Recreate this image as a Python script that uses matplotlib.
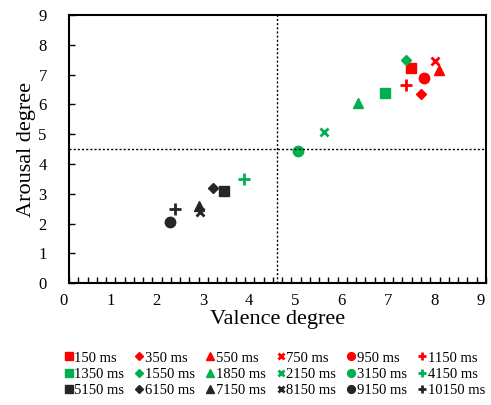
import numpy as np
import matplotlib
matplotlib.use('Agg')
import matplotlib.pyplot as plt
import matplotlib.transforms as mtransforms
from matplotlib.ticker import MultipleLocator

plt.rcParams['font.family'] = ['Liberation Serif', 'DejaVu Serif']

# delays and (valence, arousal)
labels = ['150 ms', '350 ms', '550 ms', '750 ms', '950 ms', '1150 ms',
          '1350 ms', '1550 ms', '1850 ms', '2150 ms', '3150 ms', '4150 ms',
          '5150 ms', '6150 ms', '7150 ms', '8150 ms', '9150 ms', '10150 ms']
valence = [7.39, 7.60, 7.99, 7.91, 7.67, 7.28,
           6.83, 7.27, 6.25, 5.50, 4.94, 3.78,
           3.35, 3.12, 2.81, 2.83, 2.19, 2.29]
arousal = [7.21, 6.35, 7.15, 7.46, 6.88, 6.66,
           6.38, 7.49, 6.05, 5.06, 4.43, 3.48,
           3.09, 3.20, 2.60, 2.37, 2.04, 2.48]
group_colors = ['#FF0000', '#00B050', '#262626']
markers = ['s', 'D', '^', 'x', 'o', '+']
sizes = [7, 5, 7, 6, 7.5, 8]

fig = plt.figure(figsize=(4.91, 4.05), dpi=100)
ax = fig.add_axes([0.1405, 0.301, 0.849, 0.662])

handles = []
for i, lab in enumerate(labels):
    c = group_colors[i // 6]
    m = markers[i % 6]
    mew = 2 if m in ('x', '+') else 1
    h, = ax.plot(valence[i], arousal[i], linestyle='none', marker=m, color=c,
                 markersize=sizes[i % 6], markeredgewidth=mew, label=lab)
    handles.append(h)

ax.axvline(4.5, color='black', linestyle=(0, (1.5, 1.5)), linewidth=1)
ax.axhline(4.5, color='black', linestyle=(0, (1.5, 1.5)), linewidth=1)

ax.set_xlim(0, 9)
ax.set_ylim(0, 9)
ax.xaxis.set_major_locator(MultipleLocator(1))
ax.xaxis.set_minor_locator(MultipleLocator(0.2))
ax.yaxis.set_major_locator(MultipleLocator(1))
ax.tick_params(axis='x', which='both', direction='in', length=4, width=1,
               labelsize=12, pad=7)
ax.tick_params(axis='y', which='major', direction='in', length=4, width=1,
               labelsize=12, pad=16)
for s in ax.spines.values():
    s.set_linewidth(1.5)

# x tick labels sit a little left of their ticks in the original
shift = mtransforms.ScaledTranslation(-5 / 100, 0, fig.dpi_scale_trans)
for t in ax.get_xticklabels():
    t.set_transform(t.get_transform() + shift)

ax.set_xlabel('Valence degree', fontsize=16, labelpad=1)
ax.set_ylabel('Arousal degree', fontsize=16, labelpad=2)

# legend is read row by row, matplotlib fills columns first
order = [r * 6 + c for c in range(6) for r in range(3)]
fig.legend([handles[k] for k in order], [labels[k] for k in order],
           ncol=6, loc='lower left', bbox_to_anchor=(0.11, -0.005),
           frameon=False, fontsize=10.5, handlelength=0.6, handletextpad=0.1,
           columnspacing=0.72, labelspacing=0.2, markerscale=0.75,
           borderpad=0.2)

fig.savefig('out.png', dpi=100)
